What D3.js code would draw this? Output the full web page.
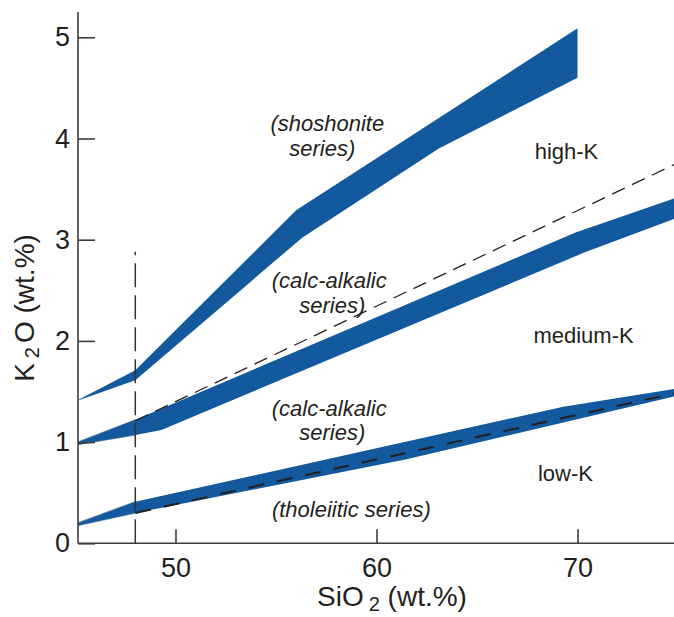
<!DOCTYPE html>
<html>
<head>
<meta charset="utf-8">
<script src="https://cdn.jsdelivr.net/npm/d3@7"></script>
<style>
html,body{margin:0;padding:0;background:#fff;}
svg{display:block;font-family:"Liberation Sans",Arial,Helvetica,sans-serif;}
</style>
</head>
<body>
<svg id="chart" width="674" height="617"></svg>
<script>
// ---- data (SiO2 wt.%, K2O wt.%) ----
const xTicks = [50, 60, 70];
const yTicks = [0, 1, 2, 3, 4, 5];

// shoshonite / high-K boundary band
const shoshTop    = [[45, 1.40], [48, 1.71], [56, 3.29], [70, 5.09]];
const shoshBottom = [[45, 1.40], [48, 1.61], [56.3, 3.02], [63.1, 3.90], [70, 4.60]];

// high-K / medium-K boundary band
const highTop    = [[45, 0.99], [48, 1.22], [69.9, 3.07], [75, 3.42]];
const highBottom = [[45, 0.97], [48, 1.07], [49.3, 1.12], [70.3, 2.87], [75, 3.22]];

// medium-K / low-K boundary band
const lowTop    = [[45, 0.19], [48, 0.41], [69.3, 1.35], [75, 1.53]];
const lowBottom = [[45, 0.17], [48, 0.30], [61.5, 0.83], [75, 1.46]];

// dashed boundary lines
const dashHigh = [[48, 1.21], [75, 3.76]];
const dashLow  = [[48, 0.30], [75, 1.49]];
const dashVert = [[48, 0], [48, 2.88]];

// labels (position in SiO2 / K2O units)
const labels = [
  {text: "(shoshonite", x: 57.55, y: 4.07, italic: true},
  {text: "series)",     x: 57.3,  y: 3.83, italic: true},
  {text: "high-K",      x: 69.45, y: 3.80, italic: false},
  {text: "(calc-alkalic", x: 57.65, y: 2.52, italic: true},
  {text: "series)",       x: 57.8,  y: 2.28, italic: true},
  {text: "medium-K",    x: 70.3,  y: 1.98, italic: false},
  {text: "(calc-alkalic", x: 57.65, y: 1.256, italic: true},
  {text: "series)",       x: 57.8,  y: 1.02, italic: true},
  {text: "low-K",       x: 69.4,  y: 0.62, italic: false},
  {text: "(tholeiitic series)", x: 58.75, y: 0.26, italic: true}
];

// ---- drawing ----
const svg = d3.select("#chart");
const blue = "#13599e";
const ink = "#231f20";

const x = d3.scaleLinear().domain([45.15, 74.85]).range([78, 675]);
const y = d3.scaleLinear().domain([0, 5.25]).range([543.3, 12]);

svg.append("defs").append("clipPath").attr("id", "plot")
  .append("rect").attr("x", x(45.15)).attr("y", 0)
  .attr("width", 674 - x(45.15)).attr("height", y(0));

const g = svg.append("g").attr("clip-path", "url(#plot)");

const line = d3.line().x(d => x(d[0])).y(d => y(d[1]));
function band(top, bottom) {
  return line(top.concat(bottom.slice().reverse())) + "Z";
}

// faint grey fringe at the left ends
g.append("path").attr("d", band(lowTop.slice(0,2), lowBottom.slice(0,2)))
  .attr("fill", "none").attr("stroke", "#9aa3ad").attr("stroke-width", 1.6);
g.append("path").attr("d", band(highTop.slice(0,2), highBottom.slice(0,2)))
  .attr("fill", "none").attr("stroke", "#9aa3ad").attr("stroke-width", 1.2);

[[shoshTop, shoshBottom], [highTop, highBottom], [lowTop, lowBottom]].forEach(([t, b]) => {
  g.append("path").attr("d", band(t, b)).attr("fill", blue);
});

g.append("path").attr("d", line(dashHigh)).attr("fill", "none")
  .attr("stroke", ink).attr("stroke-width", 1.3).attr("stroke-dasharray", "14,8");
g.append("path").attr("d", line(dashLow)).attr("fill", "none")
  .attr("stroke", ink).attr("stroke-width", 2).attr("stroke-dasharray", "16,13");
g.append("path").attr("d", line(dashVert)).attr("fill", "none")
  .attr("stroke", "#333").attr("stroke-width", 1.5).attr("stroke-dasharray", "24,8");

// axes
const axisColor = "#3d3d3d";
const yAxis = svg.append("g").attr("transform", `translate(${x(45.15)},0)`)
  .call(d3.axisLeft(y).tickValues(yTicks).tickSize(-17).tickPadding(8).tickSizeOuter(0).tickFormat(d3.format("d")));
yAxis.select(".domain").remove();
yAxis.append("line").attr("x1", 0).attr("x2", 0).attr("y1", y(5.25)).attr("y2", y(0))
  .attr("stroke", axisColor).attr("stroke-width", 1.6);

const xAxis = svg.append("g").attr("transform", `translate(0,${y(0)})`)
  .call(d3.axisBottom(x).tickValues(xTicks).tickSize(-14).tickPadding(15).tickSizeOuter(0).tickFormat(d3.format("d")));
xAxis.select(".domain").remove();
xAxis.append("line").attr("x1", x(45.15)).attr("x2", 674).attr("y1", 0).attr("y2", 0)
  .attr("stroke", axisColor).attr("stroke-width", 1.6);

[yAxis, xAxis].forEach(a => {
  a.selectAll(".tick line").attr("stroke", axisColor).attr("stroke-width", 1.6);
  a.selectAll(".tick text").attr("fill", ink).style("font-size", "27px")
    .style("font-family", '"Liberation Sans", Arial, sans-serif');
});

// region labels
svg.selectAll("text.lab").data(labels).enter().append("text")
  .attr("class", "lab")
  .attr("x", d => x(d.x)).attr("y", d => y(d.y))
  .attr("text-anchor", "middle")
  .attr("fill", ink)
  .style("font-size", "22px")
  .style("font-style", d => d.italic ? "italic" : "normal")
  .text(d => d.text);

// axis titles
const xt = svg.append("text").attr("x", 392).attr("y", 606)
  .attr("text-anchor", "middle").attr("fill", ink).style("font-size", "28px");
xt.append("tspan").text("SiO");
xt.append("tspan").attr("dx", 5).attr("dy", 5).style("font-size", "20px").text("2");
xt.append("tspan").attr("dy", -5).text(" (wt.%)");

const yt = svg.append("text").attr("transform", "translate(34,308) rotate(-90)")
  .attr("text-anchor", "middle").attr("fill", ink).style("font-size", "28px");
yt.append("tspan").text("K");
yt.append("tspan").attr("dx", 5).attr("dy", 5).style("font-size", "20px").text("2");
yt.append("tspan").attr("dx", 4).attr("dy", -5).text("O (wt.%)");
</script>
</body>
</html>
